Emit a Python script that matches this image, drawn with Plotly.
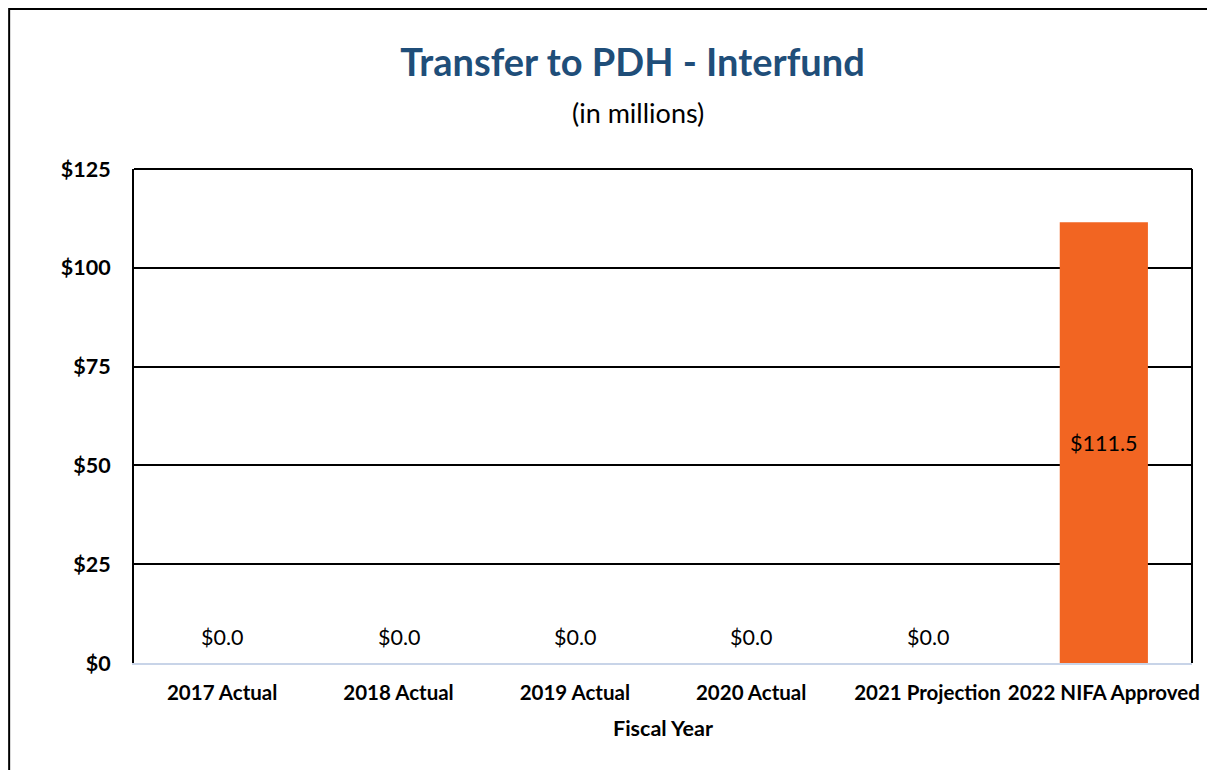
import plotly.graph_objects as go

years = ['2017 Actual', '2018 Actual', '2019 Actual', '2020 Actual',
         '2021 Projection', '2022 NIFA Approved']
transfer = [0.0, 0.0, 0.0, 0.0, 0.0, 111.5]
y_ticks = [0, 25, 50, 75, 100, 125]
y_tick_text = ['$0', '$25', '$50', '$75', '$100', '$125']

font = 'Lato, Carlito, Calibri, sans-serif'

fig = go.Figure()
fig.add_trace(go.Bar(
    x=years, y=transfer,
    marker=dict(color='#F26522', line=dict(width=0)),
    width=0.5,
))

# data labels: zero bars get a label above the axis, real bars in the middle
labels = []
for yr, v in zip(years, transfer):
    labels.append(dict(
        x=yr, y=v / 2 if v else 0, yshift=0 if v else 26,
        text='$%.1f' % v, showarrow=False, xanchor='center', yanchor='middle',
        font=dict(family=font, size=21.5, color='black'),
    ))

labels.append(dict(text='(in millions)', xref='paper', yref='paper',
                   x=0.476, y=1.114, xanchor='center', yanchor='middle',
                   showarrow=False, font=dict(family=font, size=27, color='black')))

fig.update_layout(
    width=1208, height=763,
    margin=dict(l=126, r=24, t=161, b=108),
    paper_bgcolor='white', plot_bgcolor='white',
    showlegend=False,
    font=dict(family=font, color='black'),
    title=dict(text='<b>Transfer to PDH - Interfund</b>', x=0.517, xanchor='center',
               y=0.928, yanchor='middle',
               font=dict(family=font, size=38, color='#1F4E79')),
    annotations=labels,
    shapes=[
        # outer chart border
        dict(type='rect', xref='paper', yref='paper', x0=-0.118, x1=1.2,
             y0=-0.3, y1=1.324, line=dict(color='black', width=2), layer='below'),
        # plot area frame: top and right edges
        dict(type='line', xref='paper', yref='paper', x0=0, x1=1, y0=1, y1=1,
             line=dict(color='black', width=2), layer='above'),
        dict(type='line', xref='paper', yref='paper', x0=1, x1=1, y0=0, y1=1,
             line=dict(color='black', width=2), layer='above'),
    ],
)

fig.update_yaxes(
    range=[0, 125], tickvals=y_ticks, ticktext=['<b>%s</b>' % t for t in y_tick_text],
    showgrid=True, gridcolor='black', gridwidth=1.5, automargin=False,
    zeroline=False, showline=True, linecolor='black', linewidth=2,
    ticks='', ticklabelstandoff=17, tickfont=dict(family=font, size=21.5, color='black'),
)
fig.update_xaxes(
    ticktext=['<b>%s</b>' % y for y in years], tickvals=years,
    showline=True, linecolor='#C8D4E8', linewidth=2, ticks='',
    tickangle=0, automargin=False, ticklabelstandoff=10,
    tickfont=dict(family=font, size=20.5, color='black'),
    title=dict(text='<b>Fiscal Year</b>', font=dict(family=font, size=21.5, color='black'),
               standoff=18),
)

fig.write_html('out.html')
